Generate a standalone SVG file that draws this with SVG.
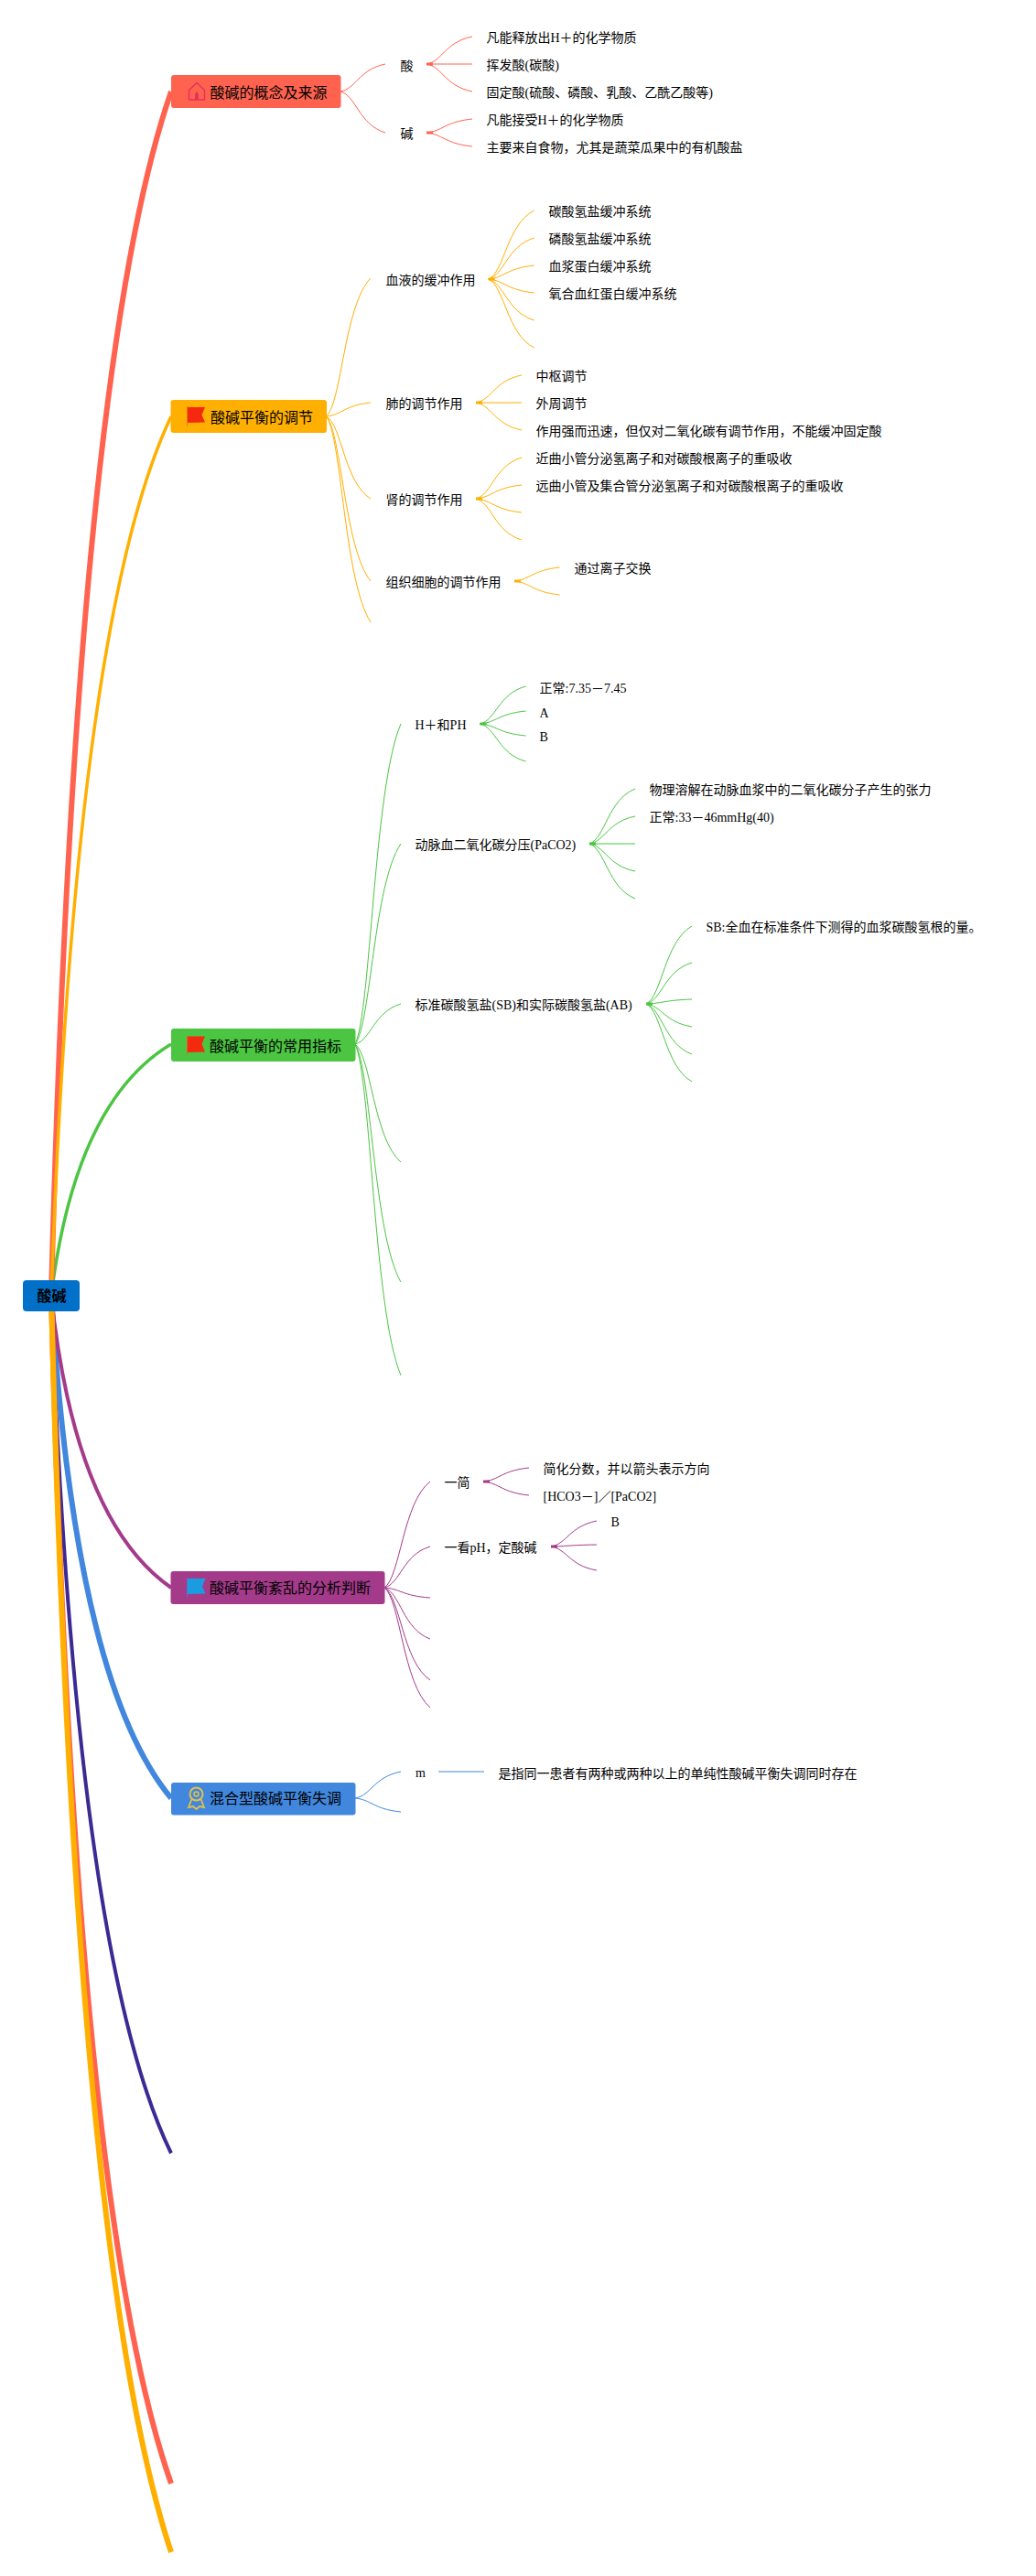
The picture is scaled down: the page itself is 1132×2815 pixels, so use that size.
<svg xmlns="http://www.w3.org/2000/svg" width="1132" height="2815" viewBox="0 0 1132 2815">
<style>
text{font-family:"Liberation Serif","Noto Sans CJK SC",serif;font-size:14px;fill:#000}
.t{font-size:16px}
.r{font-size:16px;font-weight:bold;font-family:"Noto Sans CJK SC","Liberation Sans",sans-serif}
.c1,.c2,.c3,.c4,.c5,.c6{fill:none}
.c1{stroke:#ff6350}.c2{stroke:#ffaf00}.c3{stroke:#4bc542}.c4{stroke:#a43a8a}.c5{stroke:#4087dd}.c6{stroke:#3c2a94}
.b{stroke-width:1}
.s{stroke-width:3}
</style>
<rect width="1132" height="2815" fill="#fff"/>
<g id="connectors">
<g id="main">
<path class="c6" stroke-width="4" d="M56 1416Q82 2137.500 187 2353"/>
<path class="c5" stroke-width="6" d="M56 1416Q82 1839 187 1965"/>
<path class="c4" stroke-width="4" d="M56 1416Q82 1662 187 1735"/>
<path class="c3" stroke-width="3.500" d="M56 1416Q82 1204 187 1141"/>
<path class="c1" stroke-width="6" d="M56 1416Q82 403 187 100"/>
<path class="c1" stroke-width="6" d="M56 1416Q82 2415.500 187 2714"/>
<path class="c2" stroke-width="3.500" d="M56 1416Q82 676 187 455"/>
<path class="c2" stroke-width="6" d="M56 1416Q82 2473 187 2789"/>
</g>
<g id="branch-1">
<path class="b c1" d="M372 100c17 -3 20 -24 49 -30"/>
<path class="b c1" d="M372 100c17 4.500 20 36 49 45"/>
<path class="s c1" d="M466 70h7M466 145h7"/>
<path class="b c1" d="M466 70c17.500 -3 20 -24 50 -30"/>
<path class="b c1" d="M466 70h50"/>
<path class="b c1" d="M466 70c17.500 3 20 24 50 30"/>
<path class="b c1" d="M466 145c17.500 -1.500 20 -12 50 -15"/>
<path class="b c1" d="M466 145c17.500 1.500 20 12 50 15"/>
</g>
<g id="branch-2">
<path class="b c2" d="M356.500 455c17 -15 19.400 -121 48.500 -151"/>
<path class="b c2" d="M356.500 455c17 -1.500 19.400 -12 48.500 -15"/>
<path class="b c2" d="M356.500 455c17 9 19.400 72 48.500 90"/>
<path class="b c2" d="M356.500 455c17 18 19.400 144 48.500 180"/>
<path class="b c2" d="M356.500 455c17 22.500 19.400 180 48.500 225"/>
<path class="s c2" d="M533.700 305h7M520 440h7M520 545h7M562 635h7"/>
<path class="b c2" d="M533.700 305c17.500 -7.500 20 -60 50 -75"/>
<path class="b c2" d="M533.700 305c17.500 -4.500 20 -36 50 -45"/>
<path class="b c2" d="M533.700 305c17.500 -1.500 20 -12 50 -15"/>
<path class="b c2" d="M533.700 305c17.500 1.500 20 12 50 15"/>
<path class="b c2" d="M533.700 305c17.500 4.500 20 36 50 45"/>
<path class="b c2" d="M533.700 305c17.500 7.500 20 60 50 75"/>
<path class="b c2" d="M520 440c17.500 -3 20 -24 50 -30"/>
<path class="b c2" d="M520 440h50"/>
<path class="b c2" d="M520 440c17.500 3 20 24 50 30"/>
<path class="b c2" d="M520 545c17.500 -4.500 20 -36 50 -45"/>
<path class="b c2" d="M520 545c17.500 -1.500 20 -12 50 -15"/>
<path class="b c2" d="M520 545c17.500 1.500 20 12 50 15"/>
<path class="b c2" d="M520 545c17.500 4.500 20 36 50 45"/>
<path class="b c2" d="M562 635c17 -1.500 20 -12 49.500 -15"/>
<path class="b c2" d="M562 635c17 1.500 20 12 49.500 15"/>
</g>
<g id="branch-3">
<path class="b c3" d="M388 1141c17.500 -35 20 -280 50 -350"/>
<path class="b c3" d="M388 1141c17.500 -21.900 20 -175 50 -219"/>
<path class="b c3" d="M388 1141c17.500 -4.400 20 -35 50 -44"/>
<path class="b c3" d="M388 1141c17.500 12.900 20 103 50 129"/>
<path class="b c3" d="M388 1141c17.500 26 20 208 50 260"/>
<path class="b c3" d="M388 1141c17.500 36 20 290 50 362"/>
<path class="s c3" d="M524.500 791h7M644 922h7M706 1097h7"/>
<path class="b c3" d="M524.500 791c17.500 -4 20 -33 50 -41"/>
<path class="b c3" d="M524.500 791c17.500 -1.400 20 -11 50 -14"/>
<path class="b c3" d="M524.500 791c17.500 1.300 20 10.400 50 13"/>
<path class="b c3" d="M524.500 791c17.500 4 20 33 50 41"/>
<path class="b c3" d="M644 922c17.500 -6 20 -48 50 -60"/>
<path class="b c3" d="M644 922c17.500 -3 20 -24 50 -30"/>
<path class="b c3" d="M644 922h50"/>
<path class="b c3" d="M644 922c17.500 3 20 24 50 30"/>
<path class="b c3" d="M644 922c17.500 6 20 48 50 60"/>
<path class="b c3" d="M706 1097c17.500 -8.500 20 -68 50 -85"/>
<path class="b c3" d="M706 1097c17.500 -4.500 20 -36 50 -45"/>
<path class="b c3" d="M706 1097c17.500 -0.500 20 -4 50 -5"/>
<path class="b c3" d="M706 1097c17.500 2.500 20 20 50 25"/>
<path class="b c3" d="M706 1097c17.500 5.500 20 44 50 55"/>
<path class="b c3" d="M706 1097c17.500 8.500 20 68 50 85"/>
</g>
<g id="branch-4">
<path class="b c4" d="M420 1735c17.500 -11.600 20 -93 50 -116"/>
<path class="b c4" d="M420 1735c17.500 -4.500 20 -36 50 -45"/>
<path class="b c4" d="M420 1735c17.500 1.100 20 9 50 11"/>
<path class="b c4" d="M420 1735c17.500 5.600 20 45 50 56"/>
<path class="b c4" d="M420 1735c17.500 10 20 81 50 101"/>
<path class="b c4" d="M420 1735c17.500 13 20 105 50 131"/>
<path class="s c4" d="M528 1619h7M602 1690h7"/>
<path class="b c4" d="M528 1619c17.500 -1.500 20 -12 50 -15"/>
<path class="b c4" d="M528 1619c17.500 1.500 20 12 50 15"/>
<path class="b c4" d="M602 1690c17.500 -2.800 20 -22 50 -28"/>
<path class="b c4" d="M602 1690c17.500 -0.200 20 -1.600 50 -2"/>
<path class="b c4" d="M602 1690c17.500 2.600 20 21 50 26"/>
</g>
<g id="branch-5">
<path class="b c5" d="M388 1965c17.500 -2.900 20 -23 50 -29"/>
<path class="b c5" d="M388 1965c17.500 1.500 20 12 50 15"/>
<path class="b c5" d="M479 1936h50"/>
</g>
</g>
<g id="root"><rect x="25" y="1399" width="62" height="34" rx="4" fill="#0070c8"/><text class="r" x="40.500" y="1422">酸碱</text></g>
<g id="node-1">
<rect x="187" y="82" width="185.500" height="36" rx="3" fill="#ff6350"/>
<path d="M206.500 109V98.500L215 90.500L223.500 98.500V109Z" stroke="#e8305a" stroke-width="1.500" fill="none"/>
<path d="M213 109V103L215 100L217 103V109Z" fill="#e8305a"/>
<text class="t" x="229.500" y="107">酸碱的概念及来源</text>
</g>
<g id="n1a"><text x="437.500" y="77">酸</text></g>
<g id="n1a1"><text x="531.500" y="46">凡能释放出H＋的化学物质</text></g>
<g id="n1a2"><text x="531.500" y="76">挥发酸(碳酸)</text></g>
<g id="n1a3"><text x="531.500" y="106">固定酸(硫酸、磷酸、乳酸、乙酰乙酸等)</text></g>
<g id="n1b"><text x="437.500" y="151">碱</text></g>
<g id="n1b1"><text x="531.500" y="136">凡能接受H＋的化学物质</text></g>
<g id="n1b2"><text x="531.500" y="166">主要来自食物，尤其是蔬菜瓜果中的有机酸盐</text></g>
<g id="node-2">
<rect x="186.500" y="437" width="170.500" height="36" rx="3" fill="#ffaf00"/>
<path d="M205 445H224L220.500 453.500L224 461.500L205 462Z" fill="#f5290e"/>
<path d="M204.500 444V466" stroke="#e8780a" stroke-width="1" fill="none"/>
<text class="t" x="230" y="462">酸碱平衡的调节</text>
</g>
<g id="n2a"><text x="421.500" y="311">血液的缓冲作用</text></g>
<g id="n2a1"><text x="599.500" y="236">碳酸氢盐缓冲系统</text></g>
<g id="n2a2"><text x="599.500" y="266">磷酸氢盐缓冲系统</text></g>
<g id="n2a3"><text x="599.500" y="296">血浆蛋白缓冲系统</text></g>
<g id="n2a4"><text x="599.500" y="326">氧合血红蛋白缓冲系统</text></g>
<g id="n2b"><text x="421.500" y="446">肺的调节作用</text></g>
<g id="n2b1"><text x="585.500" y="416">中枢调节</text></g>
<g id="n2b2"><text x="585.500" y="446">外周调节</text></g>
<g id="n2b3"><text x="585.500" y="476">作用强而迅速，但仅对二氧化碳有调节作用，不能缓冲固定酸</text></g>
<g id="n2c"><text x="421.500" y="551">肾的调节作用</text></g>
<g id="n2c1"><text x="585.500" y="506">近曲小管分泌氢离子和对碳酸根离子的重吸收</text></g>
<g id="n2c2"><text x="585.500" y="536">远曲小管及集合管分泌氢离子和对碳酸根离子的重吸收</text></g>
<g id="n2d"><text x="421.500" y="641">组织细胞的调节作用</text></g>
<g id="n2d1"><text x="627.500" y="626">通过离子交换</text></g>
<g id="node-3">
<rect x="187" y="1124" width="201.500" height="36" rx="3" fill="#4bc542"/>
<path d="M205 1132.500H224L220.500 1141L224 1149.500L205 1150Z" fill="#f5290e"/>
<path d="M204.500 1132V1152" stroke="#c8702a" stroke-width="1" fill="none"/>
<text class="t" x="229" y="1149">酸碱平衡的常用指标</text>
</g>
<g id="n3a"><text x="453.500" y="797">H＋和PH</text></g>
<g id="n3a1"><text x="589.500" y="757">正常:7.35－7.45</text></g>
<g id="n3a2"><text x="589.500" y="784">A</text></g>
<g id="n3a3"><text x="589.500" y="810">B</text></g>
<g id="n3b"><text x="453.500" y="928">动脉血二氧化碳分压(PaCO2)</text></g>
<g id="n3b1"><text x="709.500" y="868">物理溶解在动脉血浆中的二氧化碳分子产生的张力</text></g>
<g id="n3b2"><text x="709.500" y="898">正常:33－46mmHg(40)</text></g>
<g id="n3c"><text x="453.500" y="1103">标准碳酸氢盐(SB)和实际碳酸氢盐(AB)</text></g>
<g id="n3c1"><text x="771.500" y="1018">SB:全血在标准条件下测得的血浆碳酸氢根的量。</text></g>
<g id="node-4">
<rect x="186.500" y="1717" width="234" height="36" rx="3" fill="#a43a8a"/>
<path d="M205 1725H224.500L221 1733.500L224.500 1741.500L205 1742Z" fill="#1b9ce0"/>
<path d="M204.500 1725V1745" stroke="#5a78c8" stroke-width="1" fill="none"/>
<text class="t" x="229" y="1741">酸碱平衡紊乱的分析判断</text>
</g>
<g id="n4a"><text x="485.500" y="1625">一简</text></g>
<g id="n4a1"><text x="593.500" y="1610">简化分数，并以箭头表示方向</text></g>
<g id="n4a2"><text x="593.500" y="1640">[HCO3－]／[PaCO2]</text></g>
<g id="n4b"><text x="485.500" y="1696">一看pH，定酸碱</text></g>
<g id="n4b1"><text x="667.500" y="1668">B</text></g>
<g id="node-5">
<rect x="187" y="1948" width="201.500" height="35.500" rx="3" fill="#4087dd"/>
<circle cx="214.500" cy="1960.500" r="7" stroke="#e3c04a" stroke-width="2" fill="none"/>
<circle cx="214.500" cy="1960.500" r="2.500" stroke="#e3c04a" stroke-width="1.500" fill="none"/>
<path d="M209.500 1966L206 1975L211 1974L214.500 1977L218 1974L223 1975L219.500 1966" stroke="#e3c04a" stroke-width="1.800" fill="none"/>
<text class="t" x="229" y="1971">混合型酸碱平衡失调</text>
</g>
<g id="n5a"><text x="454" y="1942">m</text></g>
<g id="n5a1"><text x="544.500" y="1943">是指同一患者有两种或两种以上的单纯性酸碱平衡失调同时存在</text></g>
</svg>
